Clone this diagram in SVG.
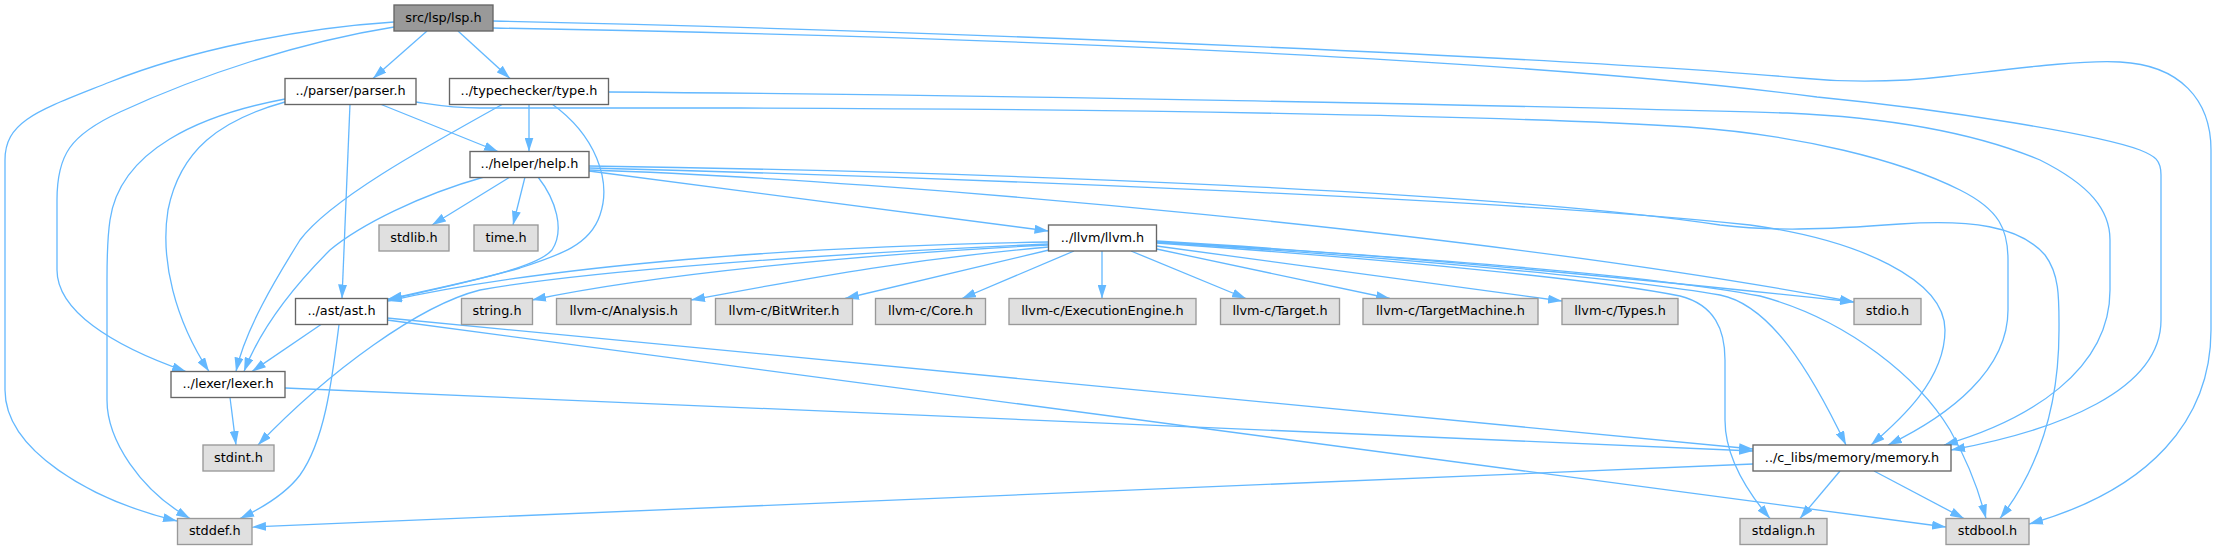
<svg xmlns="http://www.w3.org/2000/svg" width="2217" height="549" viewBox="0 0 2217 549">
<style>
rect{stroke-width:1.35}
.n rect{fill:#ffffff;stroke:#666666}
.g rect{fill:#e0e0e0;stroke:#999999}
.r rect{fill:#999999;stroke:#666666}
text{font-family:"DejaVu Sans","Noto Sans",sans-serif;font-size:12.85px;text-anchor:middle;fill:#000000}
#edges path{fill:none;stroke:#63b8ff;stroke-width:1.3;marker-end:url(#a)}
</style>
<defs>
<marker id="a" markerUnits="userSpaceOnUse" markerWidth="14" markerHeight="9" viewBox="0 0 14 9" refX="14" refY="4.5" orient="auto">
<path d="M0,0 L14,4.5 L0,9 z" fill="#63b8ff"/>
</marker>
</defs>
<rect width="2217" height="549" fill="#ffffff"/>
<g id="edges">
<path d="M427,31 L373,78.5"/>
<path d="M458,31 L510,78.5"/>
<path d="M394,27 C300,42 200,75 120,112 C70,135 57,155 57,200 L57,270 C57,310 110,345 186,371.5"/>
<path d="M394,22 C300,28 190,50 110,82 C40,110 5,120 5,160 L5,390 C5,450 90,500 177,521"/>
<path d="M493,28 C900,35 1500,55 1817,97 C1950,110 2100,135 2140,150 C2155,156 2161,160 2161,175 L2161,320 C2161,390 2060,430 1951,450"/>
<path d="M493,21 C1000,32 1600,60 1800,78 C1850,83 1900,82 1950,76 C2020,68 2080,60 2120,62 C2180,65 2211,100 2211,150 L2211,330 C2211,420 2150,490 2029,524"/>
<path d="M608.5,92 C1000,95 1500,105 1787,113 C1900,118 1980,135 2040,160 C2090,185 2110,210 2110,240 L2110,290 C2110,370 2030,420 1944,445"/>
<path d="M416,102 C430,104 450,108 480,108 L740,108 C1100,109 1500,115 1688,127 C1800,135 1900,160 1960,190 C2000,210 2008,230 2008,260 L2008,310 C2008,370 1950,415 1888,445"/>
<path d="M380,104 L498,151.5"/>
<path d="M350,104 L342,298.5"/>
<path d="M285,102 C220,120 180,150 168,210 C160,260 175,320 209,371.5"/>
<path d="M285,99 C200,115 120,150 110,220 C107,240 107,260 107,280 L107,400 C107,440 140,490 190,518.5"/>
<path d="M529,104 L529,151.5"/>
<path d="M503,104 C420,150 330,200 300,240 C275,280 245,330 236,371.5"/>
<path d="M484,177 C420,195 360,225 330,250 C290,290 260,330 244,371.5"/>
<path d="M510,177 L432,225"/>
<path d="M525,177 L513,225"/>
<path d="M538,177 C556,200 565,230 552,250 C535,270 450,285 388,300"/>
<path d="M552,104 C595,135 612,180 600,215 C590,245 560,255 520,268 C470,282 430,290 388,299"/>
<path d="M589,171 L1048.5,231"/>
<path d="M589,170 C900,180 1500,235 1854,302"/>
<path d="M589,168 C900,176 1500,198 1750,225 C1860,240 1945,280 1945,330 C1945,380 1900,420 1871,445"/>
<path d="M589,166 C1000,172 1500,192 1720,225 C1770,231 1820,230 1900,224 C1970,219 2020,226 2045,255 C2060,275 2059,300 2059,330 C2059,420 2030,480 2000,518.5"/>
<path d="M1048.5,242 C800,246 550,265 388,301"/>
<path d="M1048.5,244 C800,255 580,272 480,290 C420,305 330,370 258,445"/>
<path d="M1048.5,245 C850,255 650,275 532,300"/>
<path d="M1048.5,247 C900,260 800,280 691,300"/>
<path d="M1049,250 L845,298.5"/>
<path d="M1074,251 L962,298.5"/>
<path d="M1102,251 L1102,298.5"/>
<path d="M1131,251 L1246,298.5"/>
<path d="M1156.5,249 L1390,298.5"/>
<path d="M1156.5,246 L1562,301"/>
<path d="M1156.5,241 C1400,255 1650,280 1854,302"/>
<path d="M1156.5,243 C1400,260 1600,280 1680,296 C1715,305 1725,330 1725,360 L1725,420 C1725,460 1750,495 1770,518.5"/>
<path d="M1156.5,242 C1400,258 1620,278 1720,295 C1770,305 1810,370 1846,445"/>
<path d="M1156.5,242 C1400,256 1650,275 1760,296 C1850,320 1920,380 1950,430 C1970,465 1980,495 1986,518.5"/>
<path d="M321,324.5 L252,371.5"/>
<path d="M339,324.5 C332,380 325,440 300,475 C285,495 262,508 240,518.5"/>
<path d="M387,318 L1753,449"/>
<path d="M387,320 L1946,527"/>
<path d="M230,397.5 L236,445"/>
<path d="M285,388 L1753,451"/>
<path d="M1753,464 L252,527"/>
<path d="M1840,471 L1800,518.5"/>
<path d="M1874,471 L1964,518.5"/>
</g>
<g id="n_lsp" class="r"><rect x="394" y="5" width="99" height="26"/><text x="443.5" y="21.7">src/lsp/lsp.h</text></g>
<g id="n_parser" class="n"><rect x="285" y="78.5" width="131" height="26"/><text x="350.5" y="95.2">../parser/parser.h</text></g>
<g id="n_type" class="n"><rect x="449.5" y="78.5" width="159" height="26"/><text x="529" y="95.2">../typechecker/type.h</text></g>
<g id="n_help" class="n"><rect x="470" y="151.5" width="119" height="26"/><text x="529.5" y="168.2">../helper/help.h</text></g>
<g id="n_stdlib" class="g"><rect x="379" y="225" width="70" height="26"/><text x="414" y="241.7">stdlib.h</text></g>
<g id="n_time" class="g"><rect x="474" y="225" width="64" height="26"/><text x="506" y="241.7">time.h</text></g>
<g id="n_llvm" class="n"><rect x="1048.5" y="225" width="108" height="26"/><text x="1102.5" y="241.7">../llvm/llvm.h</text></g>
<g id="n_ast" class="n"><rect x="295.5" y="298.5" width="92" height="26"/><text x="341.5" y="315.2">../ast/ast.h</text></g>
<g id="n_string" class="g"><rect x="461.5" y="298.5" width="71" height="26"/><text x="497" y="315.2">string.h</text></g>
<g id="n_analysis" class="g"><rect x="556.5" y="298.5" width="134.5" height="26"/><text x="623.75" y="315.2">llvm-c/Analysis.h</text></g>
<g id="n_bitwriter" class="g"><rect x="715.5" y="298.5" width="137" height="26"/><text x="784" y="315.2">llvm-c/BitWriter.h</text></g>
<g id="n_core" class="g"><rect x="875.5" y="298.5" width="110" height="26"/><text x="930.5" y="315.2">llvm-c/Core.h</text></g>
<g id="n_exec" class="g"><rect x="1009" y="298.5" width="187" height="26"/><text x="1102.5" y="315.2">llvm-c/ExecutionEngine.h</text></g>
<g id="n_target" class="g"><rect x="1220.5" y="298.5" width="119" height="26"/><text x="1280" y="315.2">llvm-c/Target.h</text></g>
<g id="n_targetmachine" class="g"><rect x="1363" y="298.5" width="175" height="26"/><text x="1450.5" y="315.2">llvm-c/TargetMachine.h</text></g>
<g id="n_types" class="g"><rect x="1562" y="298.5" width="116" height="26"/><text x="1620" y="315.2">llvm-c/Types.h</text></g>
<g id="n_stdio" class="g"><rect x="1854" y="298.5" width="67" height="26"/><text x="1887.5" y="315.2">stdio.h</text></g>
<g id="n_lexer" class="n"><rect x="171" y="371.5" width="114" height="26"/><text x="228" y="388.2">../lexer/lexer.h</text></g>
<g id="n_stdint" class="g"><rect x="203" y="445" width="71" height="26"/><text x="238.5" y="461.7">stdint.h</text></g>
<g id="n_memory" class="n"><rect x="1753" y="445" width="198" height="26"/><text x="1852" y="461.7">../c_libs/memory/memory.h</text></g>
<g id="n_stddef" class="g"><rect x="177.5" y="518.5" width="74.5" height="26"/><text x="214.75" y="535.2">stddef.h</text></g>
<g id="n_stdalign" class="g"><rect x="1740" y="518.5" width="87" height="26"/><text x="1783.5" y="535.2">stdalign.h</text></g>
<g id="n_stdbool" class="g"><rect x="1946" y="518.5" width="83" height="26"/><text x="1987.5" y="535.2">stdbool.h</text></g>
</svg>
